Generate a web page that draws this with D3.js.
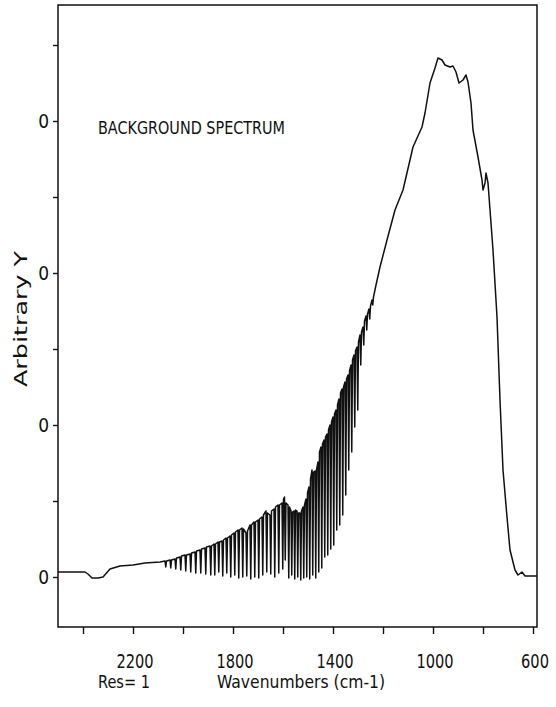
<!DOCTYPE html>
<html>
<head>
<meta charset="utf-8">
<script src="https://cdn.jsdelivr.net/npm/d3@7"></script>
<style>
  body { margin: 0; background: #fff; }
  text { font-family: "Liberation Sans Narrow", "DejaVu Sans Condensed", "Liberation Sans", sans-serif; fill: #111; }
</style>
</head>
<body>
<svg id="chart" width="556" height="707"></svg>
<script>
// wavenumber (cm-1), arbitrary Y
const spectrum = [
  [2500, 5], [2392, 5], [2380, 3], [2364, -1], [2340, -1], [2320, 0], [2292, 8],
  [2252, 11], [2200, 12], [2152, 14], [2092, 15],
  [2072, 16], [2069, 10], [2066, 16], [2052, 17], [2049, 9], [2046, 17],
  [2032, 18], [2029, 8], [2026, 19], [2012, 20], [2009, 7], [2006, 21],
  [1992, 22], [1989, 6], [1986, 22], [1972, 23], [1969, 5], [1966, 24],
  [1952, 25], [1949, 4], [1946, 26], [1932, 27], [1929, 4], [1926, 28],
  [1912, 29], [1909, 3], [1906, 30], [1892, 31], [1889, 2], [1886, 31],
  [1876, 33], [1873, 2], [1870, 33], [1860, 35], [1857, 5], [1854, 35],
  [1844, 36], [1841, 1], [1838, 37], [1828, 39], [1825, 4], [1822, 39],
  [1812, 41], [1809, 0], [1806, 42], [1796, 44], [1793, 2], [1790, 45],
  [1780, 47], [1777, -1], [1774, 47], [1764, 49], [1761, 0], [1758, 48],
  [1748, 44], [1745, 1], [1742, 46], [1732, 52], [1729, -2], [1726, 52],
  [1716, 55], [1713, 0], [1710, 55], [1700, 57], [1697, -1], [1694, 58],
  [1684, 60], [1681, 2], [1678, 62], [1668, 66], [1665, 5], [1662, 64],
  [1652, 62], [1649, 3], [1646, 66], [1636, 68], [1633, 0], [1630, 70],
  [1620, 72], [1617, 4], [1614, 72],
  [1604, 74], [1601, 8], [1598, 78], [1594, 80], [1591, 17], [1588, 74],
  [1580, 72], [1577, -1], [1574, 70], [1568, 66], [1565, 2], [1562, 65],
  [1556, 66], [1553, -2], [1550, 67], [1544, 66], [1541, 0], [1538, 64],
  [1532, 64], [1529, -3], [1526, 66], [1520, 70], [1517, -1], [1514, 72],
  [1508, 78], [1505, 0], [1502, 84], [1496, 90], [1493, -2], [1490, 98],
  [1484, 107], [1481, 2], [1478, 105], [1472, 106], [1469, -1], [1466, 107],
  [1460, 115], [1457, 5], [1454, 125], [1448, 130], [1445, 9], [1442, 133],
  [1436, 137], [1433, 20], [1430, 140], [1424, 143], [1421, 22], [1418, 147],
  [1412, 152], [1409, 28], [1406, 155], [1400, 160], [1397, 32], [1394, 163],
  [1388, 167], [1385, 47], [1382, 172], [1376, 178], [1373, 52], [1370, 184],
  [1364, 188], [1361, 62], [1358, 190], [1352, 195], [1349, 82], [1346, 198],
  [1340, 202], [1337, 107], [1334, 206], [1328, 212], [1325, 125], [1322, 217],
  [1316, 222], [1313, 150], [1310, 226], [1304, 230], [1301, 167], [1298, 235],
  [1292, 242], [1289, 212], [1286, 245], [1280, 250], [1277, 232], [1274, 256],
  [1268, 261], [1265, 247], [1262, 263], [1256, 268], [1253, 258], [1250, 271],
  [1244, 277], [1241, 272], [1238, 280], [1228, 292], [1212, 310],
  [1184, 337], [1152, 367], [1120, 387], [1080, 430], [1044, 450], [1032, 464],
  [1012, 494], [992, 509], [980, 519], [964, 517], [952, 512], [932, 510],
  [920, 511], [908, 505], [896, 494], [880, 497], [868, 502], [860, 495],
  [848, 474], [840, 447], [820, 420], [804, 397], [800, 387], [792, 394],
  [788, 404], [780, 394], [760, 327], [744, 260], [732, 177], [720, 107],
  [704, 60], [692, 27], [672, 7], [660, 2], [644, 5], [632, 1], [584, 1]
]

const xTicks = [2400, 2200, 2000, 1800, 1600, 1400, 1200, 1000, 800, 600]
const xTickLabels = [2200, 1800, 1400, 1000, 600]
const yTicks = [0, 76, 152, 228, 304, 380, 456, 532]
const yTickLabels = [0, 152, 304, 456]

const svg = d3.select('#chart')

const mLeft = 58, mRight = 537, mTop = 5, mBottom = 627

let x = d3.scaleLinear().domain([2500, 584]).range([mLeft, mRight])
let y = d3.scaleLinear().domain([-50, 572]).range([mBottom, mTop])

// frame
svg.append('rect')
    .attr('x', mLeft)
    .attr('y', mTop)
    .attr('width', mRight - mLeft)
    .attr('height', mBottom - mTop)
    .attr('fill', 'none')
    .attr('stroke', '#111')
    .attr('stroke-width', 1.5)

// x axis
let xAxis = d3.axisBottom(x)
    .tickValues(xTicks)
    .tickSize(7)
    .tickFormat('')
let gx = svg.append('g')
    .attr('transform', `translate(0 ${mBottom})`)
    .call(xAxis)
gx.select('.domain').remove()
gx.selectAll('line').attr('stroke', '#111').attr('stroke-width', 1.4)

svg.selectAll('text.xlab')
    .data(xTickLabels)
    .enter()
    .append('text')
    .classed('xlab', true)
    .attr('x', d => x(d) + 2)
    .attr('y', 668)
    .attr('text-anchor', 'middle')
    .attr('font-size', 19)
    .attr('textLength', d => String(d).length * 9.3)
    .attr('lengthAdjust', 'spacingAndGlyphs')
    .text(d => d)

// y axis
let yAxis = d3.axisLeft(y)
    .tickValues(yTicks)
    .tickSize(5)
    .tickFormat('')
let gy = svg.append('g')
    .attr('transform', `translate(${mLeft} 0)`)
    .call(yAxis)
gy.select('.domain').remove()
gy.selectAll('line').attr('stroke', '#111').attr('stroke-width', 1.4)

svg.selectAll('text.ylab')
    .data(yTickLabels)
    .enter()
    .append('text')
    .classed('ylab', true)
    .attr('x', 49)
    .attr('y', d => y(d) + 7)
    .attr('text-anchor', 'end')
    .attr('font-size', 19)
    .text('0')

// spectrum
let line = d3.line()
    .x(d => x(d[0]))
    .y(d => y(d[1]))

svg.append('path')
    .datum(spectrum)
    .attr('d', line)
    .attr('fill', 'none')
    .attr('stroke', '#111')
    .attr('stroke-width', 1.5)
    .attr('stroke-linejoin', 'round')

// texts
svg.append('text')
    .attr('x', 98)
    .attr('y', 134)
    .attr('font-size', 17)
    .attr('textLength', 187)
    .attr('lengthAdjust', 'spacingAndGlyphs')
    .text('BACKGROUND SPECTRUM')

svg.append('text')
    .attr('transform', 'translate(27 319) rotate(-90)')
    .attr('text-anchor', 'middle')
    .attr('font-size', 17)
    .attr('textLength', 136)
    .attr('lengthAdjust', 'spacingAndGlyphs')
    .text('Arbitrary Y')

svg.append('text')
    .attr('x', 98)
    .attr('y', 688)
    .attr('font-size', 18)
    .attr('textLength', 52)
    .attr('lengthAdjust', 'spacingAndGlyphs')
    .text('Res= 1')

svg.append('text')
    .attr('x', 217)
    .attr('y', 688)
    .attr('font-size', 18)
    .attr('textLength', 168)
    .attr('lengthAdjust', 'spacingAndGlyphs')
    .text('Wavenumbers (cm-1)')
</script>
</body>
</html>
